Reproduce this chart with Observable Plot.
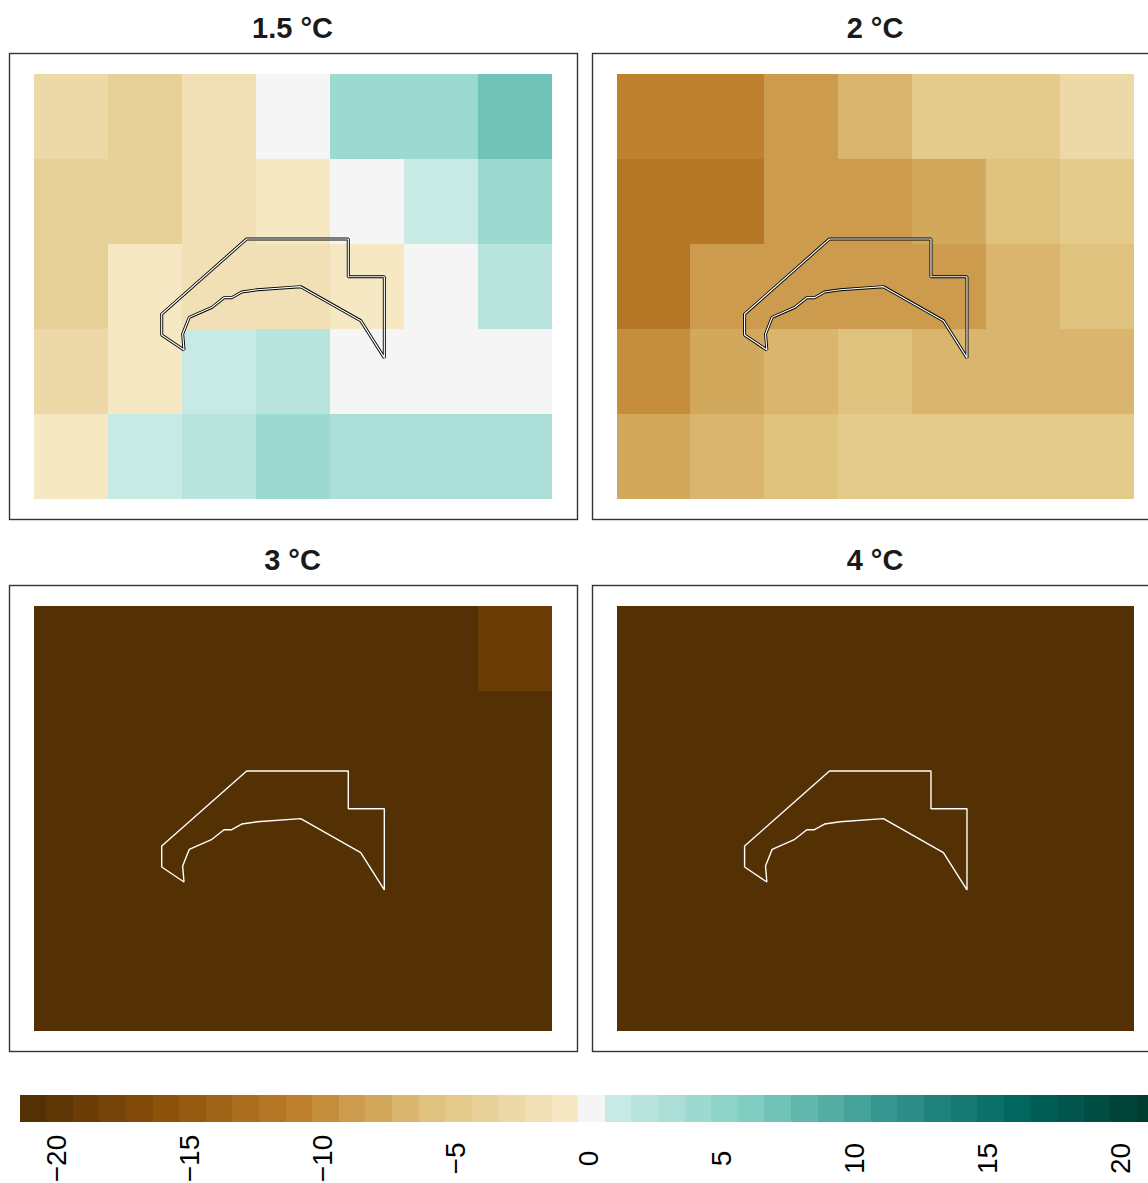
<!DOCTYPE html>
<html>
<head>
<meta charset="utf-8">
<script src="https://cdn.jsdelivr.net/npm/d3@7"></script>
<script src="https://cdn.jsdelivr.net/npm/@observablehq/plot@0.6"></script>
<style>
html,body{margin:0;padding:0;background:#fff;width:1148px;height:1183px;overflow:hidden;position:relative}
.p{position:absolute}
.p svg{display:block;overflow:visible;background:transparent;max-width:none !important}
</style>
</head>
<body>
<script>
const anchors = ["#543005","#8c510a","#bf812d","#dfc27d","#f6e8c3","#f5f5f5","#c7eae5","#80cdc1","#35978f","#01665e","#003c30"];
const anchorLevels = [-21,-16,-11,-6,-1,0,1,6,11,16,21];
const levels = d3.range(-21,22);
const palette = levels.map(d3.scaleLinear().domain(anchorLevels).range(anchors).interpolate(d3.interpolateRgb));

const tickValues = [-20,-15,-10,-5,0,5,10,15,20];
const tickLabels = ["\u221220","\u221215","\u221210","\u22125","0","5","10","15","20"];

const titles = ["1.5 °C","2 °C","3 °C","4 °C"];

// Rows from top to bottom, columns from left to right
const panel15 = [
  [-3,-4,-2,0,4,4,7],
  [-4,-4,-2,-1,0,1,4],
  [-4,-1,-2,-2,-1,0,2],
  [-3,-1,1,2,0,0,0],
  [-1,1,2,4,3,3,3]
];
const panel2 = [
  [-11,-11,-9,-7,-5,-5,-3],
  [-12,-12,-9,-9,-8,-6,-5],
  [-12,-9,-9,-9,-9,-7,-6],
  [-10,-8,-7,-6,-7,-7,-7],
  [-8,-7,-6,-5,-5,-5,-5]
];
const panel3 = [
  [-21,-21,-21,-21,-21,-21,-19],
  [-21,-21,-21,-21,-21,-21,-21],
  [-21,-21,-21,-21,-21,-21,-21],
  [-21,-21,-21,-21,-21,-21,-21],
  [-21,-21,-21,-21,-21,-21,-21]
];
const panel4 = [
  [-21,-21,-21,-21,-21,-21,-21],
  [-21,-21,-21,-21,-21,-21,-21],
  [-21,-21,-21,-21,-21,-21,-21],
  [-21,-21,-21,-21,-21,-21,-21],
  [-21,-21,-21,-21,-21,-21,-21]
];
const panels = [panel15,panel2,panel3,panel4];

const outlineX = [1.726,2.874,4.247,4.247,4.734,4.734,4.415,3.604,3.018,2.807,2.672,2.568,2.405,2.099,2.009,2.027,1.726,1.726];
const outlineY = [2.176,3.059,3.059,2.615,2.615,1.660,2.098,2.498,2.462,2.435,2.368,2.368,2.255,2.138,1.941,1.753,1.929,2.176];
const outline = outlineX.map((x,i)=>({x,y:outlineY[i]}));

const colorScale = {type:"ordinal",domain:levels,range:palette};
const font = '"Liberation Sans",Arial,Helvetica,sans-serif';

function place(node,left,top){
  const d=document.createElement("div");d.className="p";d.style.left=left+"px";d.style.top=top+"px";
  d.appendChild(node);document.body.appendChild(d);
}

panels.forEach((rows,i)=>{
  const cells = rows.flatMap((r,ri)=>r.map((v,ci)=>({x:ci,y:4-ri,v})));
  const right = i%2===1;
  const marks = [
    Plot.rect(cells,{x1:"x",x2:d=>d.x+1,y1:"y",y2:d=>d.y+1,fill:"v",shapeRendering:"crispEdges"}),
    Plot.frame({stroke:"#333333",strokeWidth:1.4}),
  ];
  if(i<2) marks.push(Plot.line(outline,{x:"x",y:"y",stroke:"#000",strokeWidth:3,strokeLinejoin:"miter"}));
  marks.push(Plot.line(outline,{x:"x",y:"y",stroke:"#fff",strokeWidth:i<2?1.2:1.4,strokeLinejoin:"miter"}));
  marks.push(Plot.text([titles[i]],{frameAnchor:"top",dy:-36,dx:right?-1.5:-1,fontSize:29,fontWeight:"bold",fill:"#1a1a1a",fontFamily:font}));
  const p = Plot.plot({
    width:587,height:532,
    marginLeft:9,marginRight:10,marginTop:53,marginBottom:13,
    x:{domain:[0,7],range:[33.5,right?551:551.5],axis:null},
    y:{domain:[0,5],range:[498.5,73.5],axis:null},
    color:colorScale,
    style:{fontFamily:font},
    marks
  });
  place(p,(i%2)*582.5,Math.floor(i/2)*532);
});

const legend = Plot.plot({
  width:1170,height:103,
  marginLeft:0,marginRight:0,marginTop:15,marginBottom:61,
  x:{domain:[-21.5,21.5],range:[19.5,1163.5],axis:null},
  y:{domain:[0,1],axis:null},
  color:colorScale,
  style:{fontFamily:font},
  marks:[
    Plot.rect(levels,{x1:d=>d-0.5,x2:d=>d+0.5,y1:0,y2:1,fill:d=>d,shapeRendering:"crispEdges"}),
    Plot.text(tickValues,{x:d=>d,frameAnchor:"top",dy:63,dx:-14,text:(d,i)=>tickLabels[i],rotate:-90,fontSize:28,fill:"#000",textAnchor:"middle",fontFamily:font})
  ]
});
place(legend,0,1080);
</script>
</body>
</html>
